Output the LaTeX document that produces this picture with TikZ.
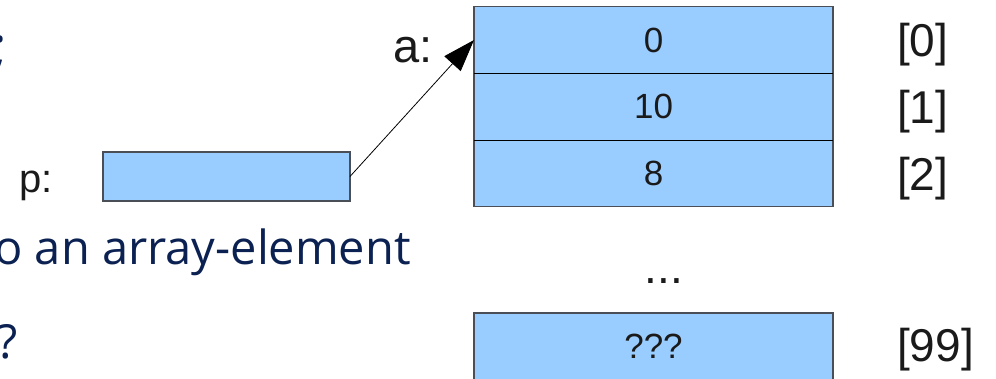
\documentclass[tikz,border=0pt]{standalone}
\usepackage{fontspec}
\setmainfont{Liberation Sans}
\newfontfamily\slidefont{Open Sans}
\usetikzlibrary{arrows.meta}
\definecolor{cellblue}{HTML}{99CCFF}
\definecolor{celledge}{HTML}{4A4F57}
\definecolor{navy}{HTML}{0B2152}
\definecolor{ink}{HTML}{1A1A1A}

\begin{document}
\begin{tikzpicture}[x=1pt,y=-1pt,
  cell/.style={fill=cellblue, minimum width=359pt, minimum height=66.7pt,
    inner sep=0pt, outer sep=0pt, font=\fontsize{35}{40}\selectfont, text=ink},
  idx/.style={anchor=base west, font=\fontsize{46}{50}\selectfont, text=ink, inner sep=0pt},
  lbl/.style={anchor=base west, font=\fontsize{47}{50}\selectfont, text=ink, inner sep=0pt},
  slide/.style={font=\slidefont\fontsize{47}{52}\selectfont, text=navy, inner sep=0pt},
  pointer/.style={draw=black, line width=0.8pt, -{Triangle[length=32pt,width=22pt]}}]
\useasboundingbox (0,0) rectangle (996,379);

% surrounding slide text
\node[slide, anchor=base east, font=\slidefont\fontsize{56}{60}\selectfont] (semi) at (7.5,67) {;};
\node[slide, anchor=base east] (elem) at (411,265) {o an array-element};
\node[slide, anchor=base west] (quest) at (-3,359) {?};

% array a
\node[cell] (c0) at (653.5,40) {0};
\node[cell] (c1) at (653.5,106.7) {10};
\node[cell] (c2) at (653.5,173.3) {8};
\draw[celledge, line width=1.2pt] (c0.north west) rectangle (c2.south east);
\draw[black, line width=0.8pt] (c0.south west) -- (c0.south east);
\draw[black, line width=0.8pt] (c1.south west) -- (c1.south east);

\node[anchor=base, font=\fontsize{46}{50}\selectfont, text=ink, inner sep=0pt] (dots) at (664,284) {...};

\node[cell] (c99) at (653.5,346.3) {???};
\draw[celledge, line width=1.2pt] (c99.north west) rectangle (c99.south east);

% indices
\node[idx] (i0) at (897,57) {[0]};
\node[idx] (i1) at (897,123.7) {[1]};
\node[idx] (i2) at (897,190.3) {[2]};
\node[idx] (i99) at (897,361) {[99]};

% labels
\node[lbl] (la) at (393,63) {a:};
\node[lbl, font=\fontsize{40}{44}\selectfont] (lp) at (19,193) {p:};

% pointer p
\node[fill=cellblue, draw=celledge, line width=1.2pt, minimum width=247pt,
  minimum height=49pt, inner sep=0pt, outer sep=0pt] (pbox) at (226.5,176.5) {};
\draw[pointer] (pbox.east) -- (c0.west);
\end{tikzpicture}
\end{document}
